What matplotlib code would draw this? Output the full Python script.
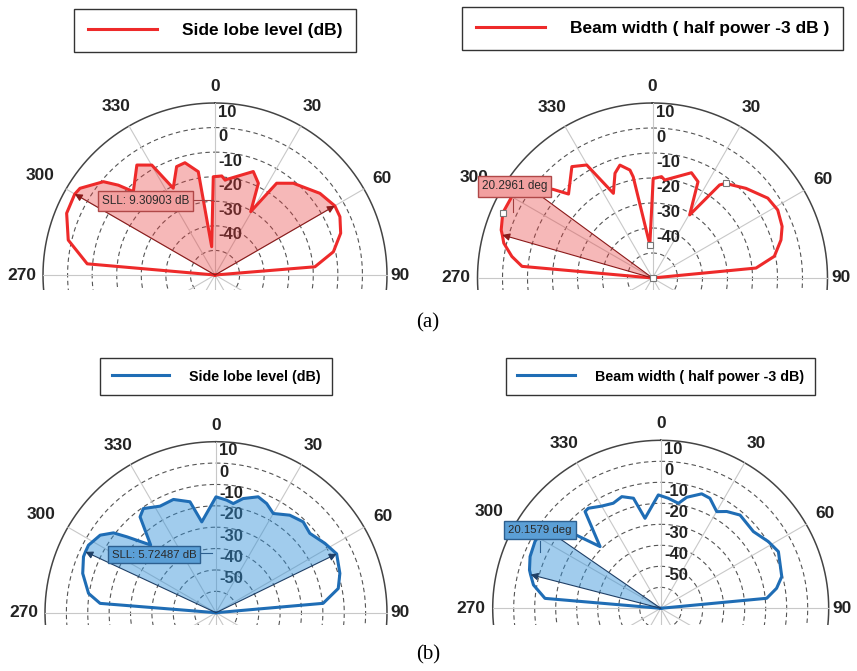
import numpy as np
import matplotlib
matplotlib.use("Agg")
import matplotlib.pyplot as plt
from matplotlib.lines import Line2D
from matplotlib.transforms import Bbox, TransformedBbox

plt.rcParams['font.family'] = ['Liberation Sans', 'DejaVu Sans']

W, H = 857, 671

# angles in degrees (0 = top, clockwise), levels in dB
sll_a_ang = [-90, -85, -76.6, -67.4, -60, -57.3, -50.1, -47.1, -44.4, -35.4, -29.9, -25.7, -19.5, -15,
             -9.2, -6.7, -1, 3.9, 6, 20.3, 25.3, 29.4, 33.9, 40.5, 52.1, 60, 65, 71.6, 78.9, 85.3, 90]
sll_a_db = [-60, -7.8, 1.4, 5.4, 5.9, 5.3, -0.8, -6.3, -12.5, -5.1, -8.4, -20.8, -13.2, -12.7,
            -17.4, -48.4, -20, -19.6, -21.1, -15.1, -18.7, -30.4, -15, -10.9, -5.9, -3.7, -3.9, -6.1, -10.9, -19.2, -60]

bw_a_ang = [-90, -84.9, -81.3, -76.8, -74, -72.4, -66.5, -61, -57, -53.7, -48.3, -45, -35.9, -30.2, -24.8,
            -19.7, -16.1, -11.8, -10.8, -4.6, 0.4, 5.1, 7.1, 20.3, 25.3, 30.5, 35.8, 37.7, 46.2, 55.3, 61.5,
            68.3, 73.5, 79.9, 84.5, 90]
bw_a_db = [-60, -7.6, -3.1, 1.1, 2.5, 3.5, 5.3, 5.0, 5.5, 2.0, -6.7, -12.5, -5, -7.7, -22.7,
           -15.5, -13, -15.9, -18.8, -46.7, -20.2, -19.3, -20.5, -15.1, -17.4, -30.7, -14.1, -12.2, -8.2, -3.9, -3.0,
           -4.2, -6.4, -10.5, -18.4, -60]
bw_a_marks = [-66.5, -4.6, 37.7]

sll_b_ang = [-90, -85.4, -81.4, -73.6, -67.1, -65, -62.1, -56.2, -52.1, -49.6, -44, -38.4, -34.9, -27.7,
             -20.6, -13.2, -8.9, 0, 5.4, 9, 13.4, 20, 24.9, 30, 37.1, 43.8, 49.8, 57.5, 64, 72.4, 78.8, 85, 90]
sll_b_db = [-70, -15.6, -9.7, -5.0, -2.7, -2.6, -2.5, -4.8, -9.2, -15.2, -26, -12.8, -10.6, -13.7,
            -13.4, -16.7, -27, -15.8, -17.1, -18.3, -15.1, -12.3, -13.7, -16.4, -12.8, -11.1, -12.5, -9.6, -7.2,
            -9.2, -11.7, -19.7, -70]

bw_b_ang = [-90, -85.1, -79.6, -75.5, -73.7, -68.4, -62, -57, -55.4, -49.1, -44.5, -38, -35.9, -30, -24.3,
            -19.2, -13.9, -9.9, -1.2, 4, 9.6, 13.2, 19.7, 24.1, 30.1, 34.3, 40.4, 50.4, 58.2, 64.3, 75.3, 80.2, 84.6, 90]
bw_b_db = [-70, -14.7, -8.4, -6, -4.9, -3.1, -2.2, -2.5, -4, -16.7, -28.8, -11.5, -11.2, -13.8, -15.1,
           -13.7, -16, -26.5, -16, -17.5, -19.3, -15.7, -12.1, -12.6, -16.8, -14.2, -11.7, -12.7, -9.7, -7.8,
           -10.4, -14, -19.3, -70]

spokes = [0, 30, 60, 90, 120, 150, 180, 210, 240, 270, 300, 330]
theta_labels = [0, 30, 60, 90, 270, 300, 330]
rticks_a = [10, 0, -10, -20, -30, -40]
rticks_b = [10, 0, -10, -20, -30, -40, -50]

# label offsets from the outer ring, in points
label_off = {0: (0, 12), 30: (8.3, 14), 60: (13.3, 7.6), 90: (9.7, 0),
             270: (-15.5, 0), 300: (-19, 9.4), 330: (-9, 14)}

RED, RED_DARK = '#ee2a2a', '#8b1a1a'
BLUE, BLUE_DARK = '#1f6db5', '#1f3f66'

fig = plt.figure(figsize=(W / 100, H / 100), dpi=100)


def make_polar(cx, cy, rad, rmin, rticks):
    ax = fig.add_axes([(cx - rad) / W, 1 - (cy + rad) / H, 2 * rad / W, 2 * rad / H], projection='polar')
    ax.set_theta_zero_location('N')
    ax.set_theta_direction(-1)
    ax.patch.set_visible(False)
    ax.spines['polar'].set_visible(False)
    ax.set_xticks([])
    ax.set_yticks([])
    ax.grid(False)
    circ = np.linspace(0, 2 * np.pi, 361)
    for rv in range(rmin + 10, 10, 10):
        ax.plot(circ, np.full(circ.size, rv), color='#555555', lw=0.8, dashes=(4, 3), zorder=1)
    ax.plot(circ, np.full(circ.size, 10), color='#444444', lw=1.1, zorder=1)
    for t in spokes:
        ax.plot(np.deg2rad([t, t]), [rmin, 10], color='#c8c8c8', lw=0.8, zorder=1)
    for t in theta_labels:
        ax.annotate(str(t), xy=(np.deg2rad(t), 10), xytext=label_off[t], textcoords='offset points',
                    ha='center', va='center', fontsize=12.5, fontweight='bold', color='#222222',
                    annotation_clip=False)
    for rv in rticks:
        ax.annotate(str(rv), xy=(0, rv), xytext=(2.5, -6.5), textcoords='offset points',
                    ha='left', va='center', fontsize=12, fontweight='bold', color='#222222',
                    zorder=1.5, annotation_clip=False)
    return ax


def pattern(ax, ang, db, rmin, span, color, dark, fc, alpha, both_arrows):
    line, = ax.plot(np.deg2rad(ang), db, color=color, lw=2.2, zorder=3)
    i0, i1 = ang.index(span[0]), ang.index(span[1])
    th = np.deg2rad([0] + ang[i0:i1 + 1] + [0])
    rr = [rmin] + db[i0:i1 + 1] + [rmin]
    ax.fill(th, rr, color=fc, alpha=alpha, lw=0, zorder=2)
    arrow = dict(arrowstyle='-|>', color=dark, lw=0.8, mutation_scale=11, shrinkA=0, shrinkB=0)
    ax.annotate('', xy=(np.deg2rad(span[0]), db[i0]), xytext=(0, rmin), arrowprops=arrow,
                annotation_clip=False, zorder=4)
    if both_arrows:
        ax.annotate('', xy=(np.deg2rad(span[1]), db[i1]), xytext=(0, rmin), arrowprops=arrow,
                    annotation_clip=False, zorder=4)
    else:
        ax.plot(np.deg2rad([0, span[1]]), [rmin, db[i1]], color=dark, lw=0.8, zorder=4)
    return line


def finish(ax, rmin, cut):
    ax.set_ylim(rmin, 10)
    box = TransformedBbox(Bbox.from_extents(0, 1 - cut / H, 1, 1), fig.transFigure)
    for art in list(ax.lines) + list(ax.patches):
        art.set_clip_path(None)
        art.set_clip_box(box)


def legend(line, label, cx, cy, size):
    fig.legend([line], [label], loc='center', bbox_to_anchor=(cx / W, 1 - cy / H),
               frameon=True, fancybox=False, edgecolor='#333333', framealpha=1,
               prop=dict(weight='bold', size=size), handlelength=4.0, handletextpad=1.4,
               borderpad=0.8)


def tag(text, cx, cy, size, fc, ec):
    fig.text(cx / W, 1 - cy / H, text, ha='center', va='center', fontsize=size, color='#2a2a2a',
             bbox=dict(boxstyle='square,pad=0.35', fc=fc, ec=ec, lw=1), zorder=6)


def leader(xs, ys, color):
    fig.add_artist(Line2D([x / W for x in xs], [1 - y / H for y in ys], color=color, lw=0.8, zorder=5))


# (a) top left: side lobe level
ax1 = make_polar(215, 275, 172, -60, rticks_a)
l1 = pattern(ax1, sll_a_ang, sll_a_db, -60, (-60, 60), RED, RED_DARK, '#e83a3a', 0.36, True)
finish(ax1, -60, 290)
legend(l1, 'Side lobe level (dB)', 215, 30.5, 12.5)
leader([193, 213], [200, 200], '#a04040')
tag('SLL: 9.30903 dB', 145.5, 201, 8.5, '#f2a0a0', '#b04848')

# (a) top right: beam width
ax2 = make_polar(652.5, 278, 175, -60, rticks_a)
l2 = pattern(ax2, bw_a_ang, bw_a_db, -60, (-74, -53.7), RED, RED_DARK, '#e83a3a', 0.36, False)
idx = [bw_a_ang.index(a) for a in bw_a_marks]
ax2.plot(np.deg2rad([bw_a_ang[i] for i in idx] + [0]), [bw_a_db[i] for i in idx] + [-60], 's',
         ms=4.5, mfc='white', mec='#777777', mew=0.8, zorder=5)
finish(ax2, -60, 290)
legend(l2, 'Beam width ( half power -3 dB )', 652.5, 28.5, 12.5)
leader([513, 513], [199, 212], '#a04040')
tag('20.2961 deg', 514.5, 186.5, 8.5, '#f2a0a0', '#b04848')

# (b) bottom left: side lobe level
ax3 = make_polar(216, 612.7, 171, -70, rticks_b)
l3 = pattern(ax3, sll_b_ang, sll_b_db, -70, (-65, 64), BLUE, BLUE_DARK, '#2f8fd8', 0.45, True)
finish(ax3, -70, 625)
legend(l3, 'Side lobe level (dB)', 216, 376.5, 10.3)
leader([200, 212], [553, 553], '#2d5f8f')
tag('SLL: 5.72487 dB', 154, 554.5, 8.2, '#5b9fd6', '#2d5f8f')

# (b) bottom right: beam width
ax4 = make_polar(660.7, 608.3, 168, -70, rticks_b)
l4 = pattern(ax4, bw_b_ang, bw_b_db, -70, (-75.5, -55.4), BLUE, BLUE_DARK, '#2f8fd8', 0.45, False)
finish(ax4, -70, 625)
legend(l4, 'Beam width ( half power -3 dB)', 660.5, 376.5, 10.3)
leader([540, 540], [541, 552], '#2d5f8f')
tag('20.1579 deg', 540, 530, 8.2, '#5b9fd6', '#2d5f8f')

fig.text(428 / W, 1 - 323 / H, '(a)', family='Liberation Serif', fontsize=15, ha='center', va='center')
fig.text(428 / W, 1 - 655 / H, '(b)', family='Liberation Serif', fontsize=15, ha='center', va='center')

fig.savefig('out.png', dpi=100)
